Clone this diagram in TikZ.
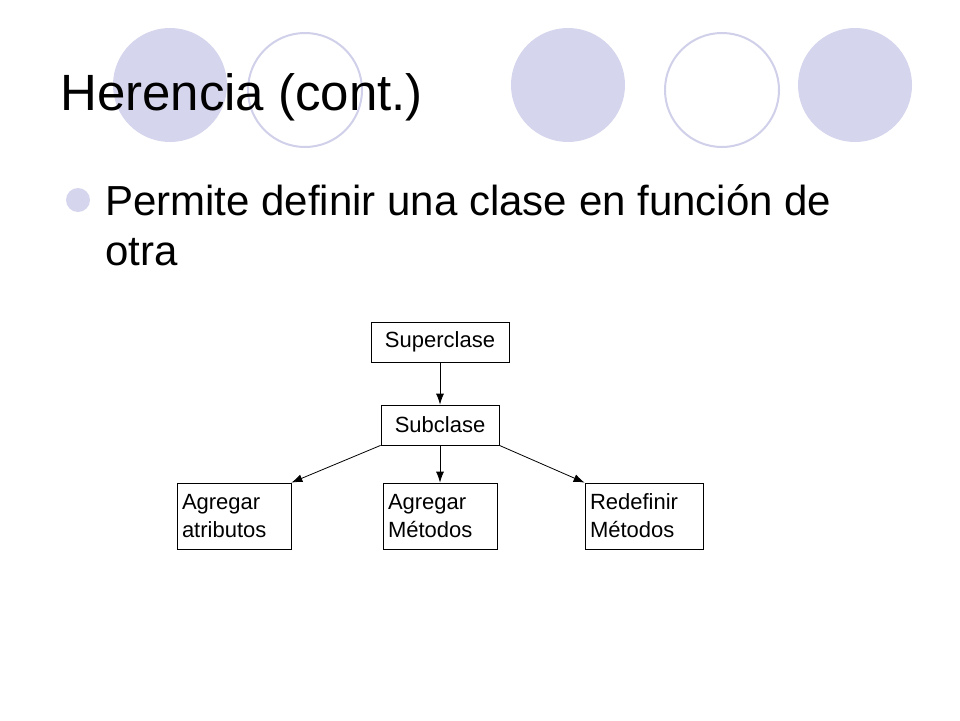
\documentclass[tikz,border=0pt]{standalone}
\usepackage{fontspec}
\setmainfont{Liberation Sans}
\definecolor{lav}{HTML}{D5D5EE}
\definecolor{lavline}{HTML}{D0D0EA}
\begin{document}
\begin{tikzpicture}[x=1pt,y=-1pt,
  box/.style={draw,line width=0.8pt,inner xsep=5pt,inner ysep=4pt,font=\fontsize{22}{28}\selectfont,align=left},
  arr/.style={-{Latex[length=11pt,width=8pt]},line width=0.8pt}]
\usetikzlibrary{arrows.meta}
\useasboundingbox[fill=white] (0,0) rectangle (960,720);
\fill[lav] (170,85) circle (57);
\draw[lavline,line width=2pt] (305,90) circle (57);
\fill[lav] (568,85) circle (57);
\draw[lavline,line width=2pt] (722,90) circle (57);
\fill[lav] (855,85) circle (57);
\node[anchor=base west,inner sep=0pt,font=\fontsize{51}{56}\selectfont] (title) at (60,110) {Herencia (cont.)};
\fill[lav] (78,200) circle (12);
\node[anchor=base west,inner sep=0pt,font=\fontsize{42}{48}\selectfont] (l1) at (105,215) {Permite definir una clase en función de};
\node[anchor=base west,inner sep=0pt,font=\fontsize{42}{48}\selectfont] (l2) at (105,265) {otra};
\node[box,minimum width=138pt,minimum height=40pt] (sup) at (440,342) {Superclase};
\node[box,minimum width=118pt,minimum height=40pt] (sub) at (440,425) {Subclase};
\node[box,minimum width=114pt,minimum height=66pt,text width=104pt] (a1) at (234,516) {Agregar\\atributos};
\node[box,minimum width=114pt,minimum height=66pt,text width=104pt] (a2) at (440,516) {Agregar\\Métodos};
\node[box,minimum width=118pt,minimum height=66pt,text width=108pt] (a3) at (644,516) {Redefinir\\Métodos};
\draw[arr] (sup.south) -- (sub.north);
\draw[arr] (sub.south) -- (a2.north);
\draw[arr] (sub.south west) -- (a1.north east);
\draw[arr] (sub.south east) -- (a3.north west);
\end{tikzpicture}
\end{document}
